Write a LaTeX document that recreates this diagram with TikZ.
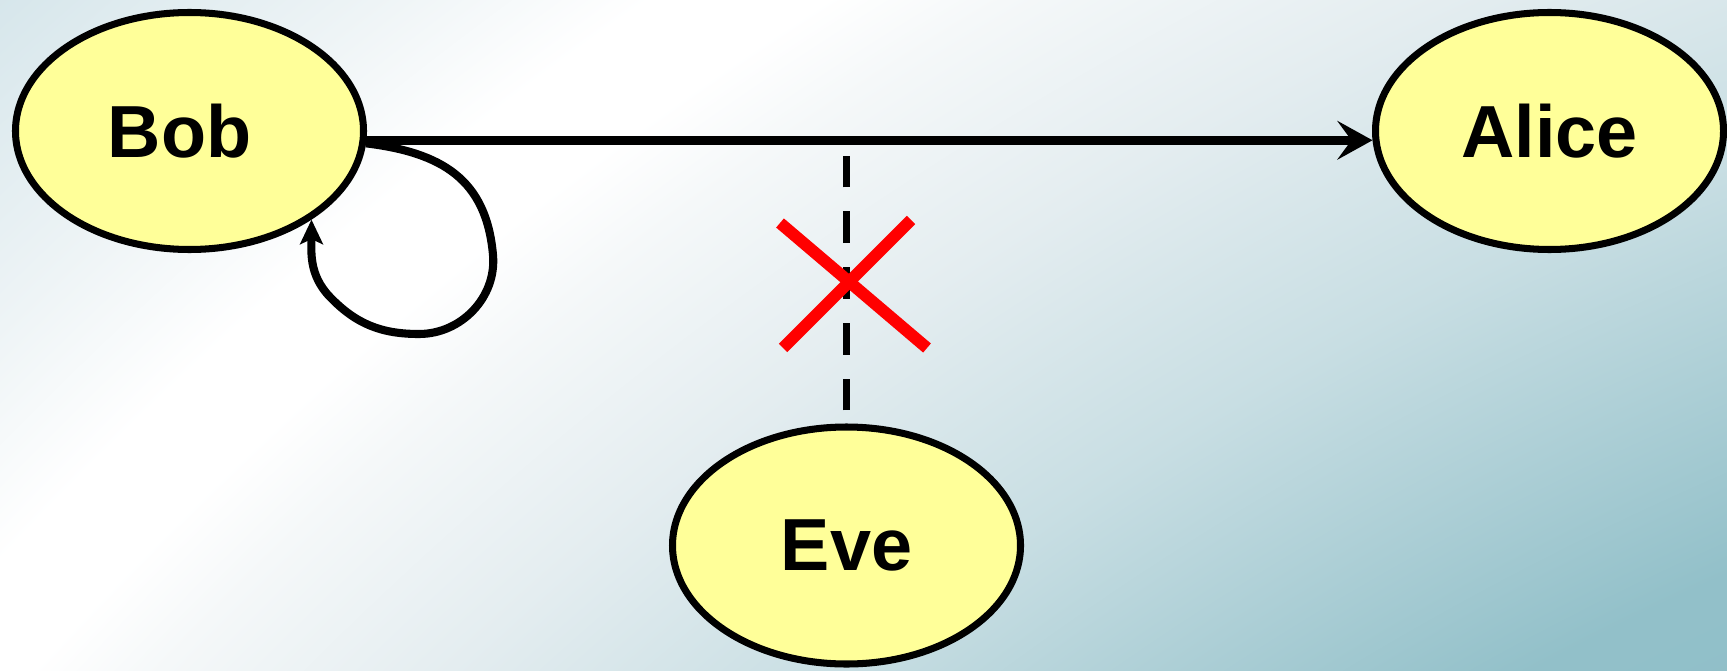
\documentclass[tikz,border=0pt]{standalone}
\usepackage{fontspec}
\setmainfont{Liberation Sans}
\usetikzlibrary{shapes.geometric,arrows.meta}
\definecolor{nodefill}{RGB}{255,255,153}
\definecolor{bgcore}{RGB}{110,170,182}
\definecolor{bgdeep}{RGB}{146,192,201}
\definecolor{bgmid}{RGB}{200,222,227}
\definecolor{bgpale}{RGB}{228,237,240}
\definecolor{bglight}{RGB}{245,248,249}
\definecolor{bgedge}{RGB}{238,244,246}
\definecolor{bgtl}{RGB}{214,230,235}
\definecolor{bgfar}{RGB}{200,222,228}
\pgfdeclareradialshading{backdrop}{\pgfpoint{0bp}{0bp}}{color(0bp)=(bgcore); color(22.2bp)=(bgdeep); color(25bp)=(bgmid); color(26.9bp)=(bgpale); color(28.4bp)=(bglight); color(29.1bp)=(white); color(29.8bp)=(white); color(31bp)=(bgedge); color(32.8bp)=(bgtl); color(38bp)=(bgfar); color(50bp)=(bgfar)}
\begin{document}
\begin{tikzpicture}
  [every node/.style={ellipse,draw,fill=nodefill,line width=2pt,inner sep=0pt,
   minimum width=3.48cm,minimum height=2.37cm,font=\bfseries\fontsize{21}{25}\selectfont}]
  \tikzstyle{send} = [line width=2.5pt,-{Stealth[length=10pt,width=11pt,inset=4pt]}]
  \tikzstyle{self} = [line width=2.3pt,-{Stealth[length=7pt,width=6.5pt,inset=1.5pt]}]
  \tikzstyle{tap} = [line width=2.1pt,dash pattern=on 9.07pt off 6.8pt,shorten <=0.13cm,shorten >=0.16cm]
  \tikzstyle{blocked} = [red,line width=3.4pt]
  \useasboundingbox (0,0) rectangle (17.27,-6.70);
  \begin{scope}
    \clip (0,0) rectangle (17.27,-6.70);
    \shade[shading=backdrop] (-4.40,-67.32) rectangle (63.60,0.68);
  \end{scope}
  \node (bob) at (1.895,-1.31) {\kern-0.2cm Bob};
  \node (alice) at (15.495,-1.31) {Alice};
  \node (eve) at (8.465,-5.455) {Eve};
  \coordinate (wire) at (eve.north |- bob.-3);
  \coordinate (cut) at (8.50,-2.85);
  \draw[send] (bob.-3) -- (alice.183);
  \draw[self] (bob.-4) to[out=-7,in=95,looseness=1.15] (4.93,-2.55)
    to[out=-85,in=0] (4.19,-3.34) to[out=180,in=-46] (3.30,-2.97)
    to[out=134,in=-90] (bob.-36);
  \draw[tap] (eve.north) -- (wire);
  \draw[blocked] ([shift={(-0.70,0.62)}]cut) -- ([shift={(0.77,-0.63)}]cut);
  \draw[blocked] ([shift={(0.61,0.65)}]cut) -- ([shift={(-0.67,-0.63)}]cut);
\end{tikzpicture}
\end{document}
